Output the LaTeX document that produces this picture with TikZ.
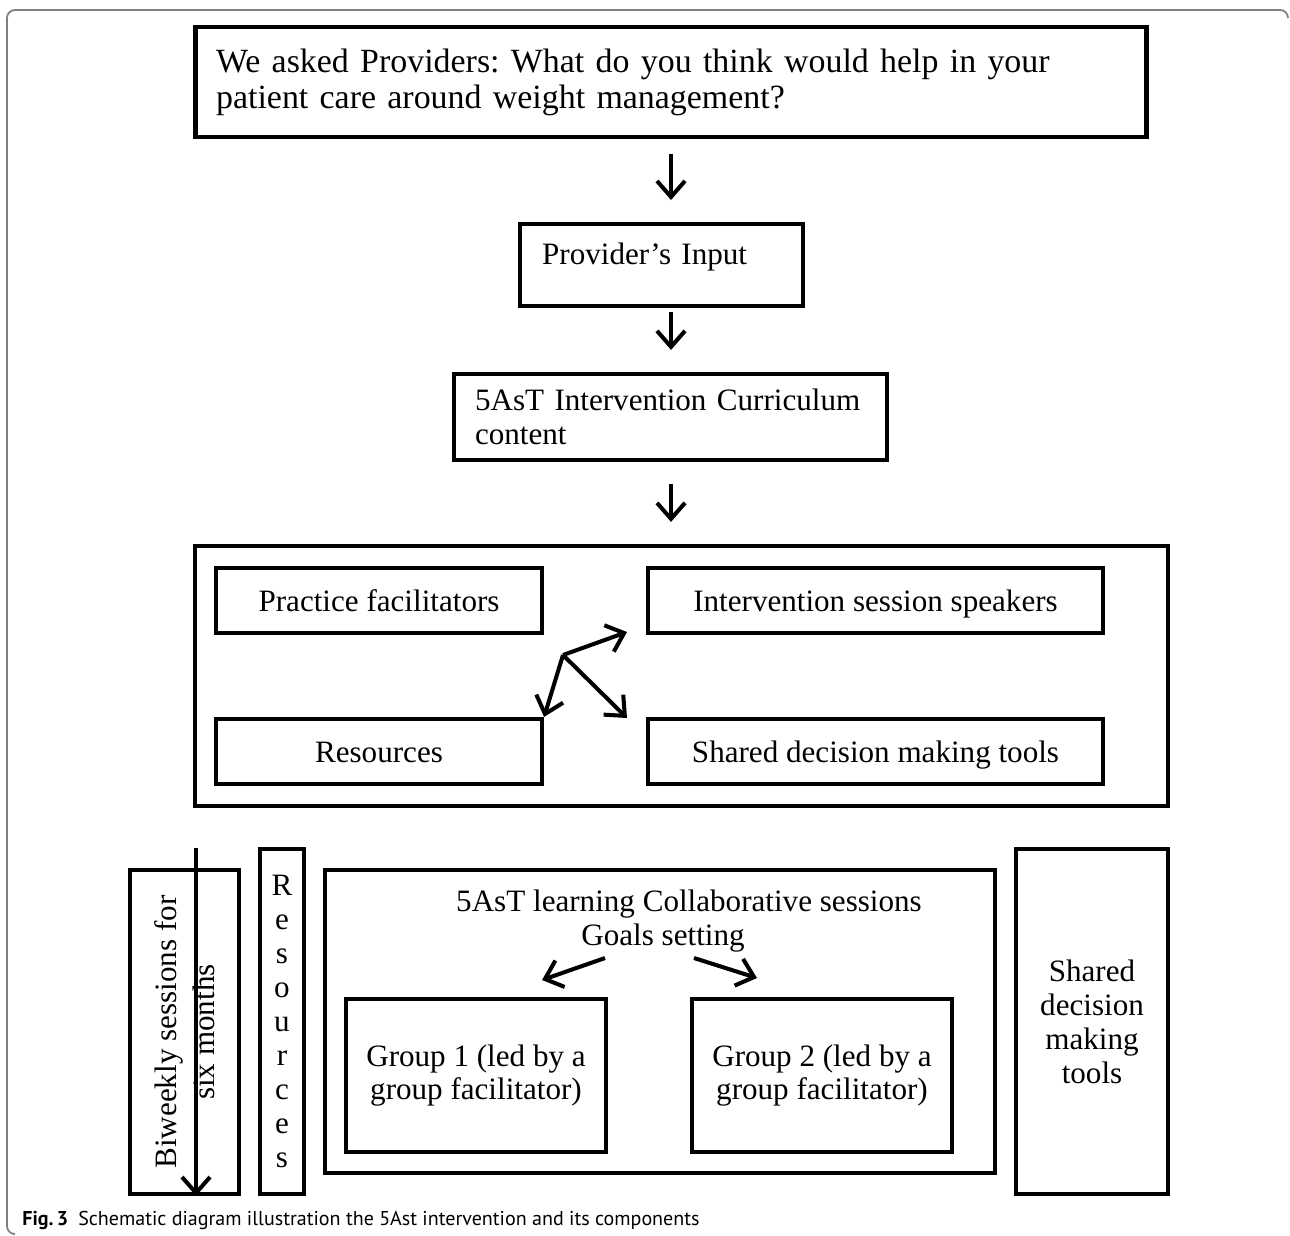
\documentclass[tikz,border=0pt]{standalone}
\usepackage{fontspec}
\setmainfont{Liberation Serif}
\newfontfamily\capfont{PT Sans}
\usetikzlibrary{arrows.meta,calc,positioning}
\definecolor{FrameGray}{HTML}{7F7F7F}
\frenchspacing
\tikzset{
  box/.style={
    draw=black,
    line width=2.4pt,
    inner sep=0pt,
    align=center,
    font=\fontsize{17.7}{19.3}\selectfont
  },
  oneline/.style={text height=15pt,text depth=3pt},
  askbox/.style={box,line width=2.8pt,align=left,font=\fontsize{19.3}{20.4}\selectfont},
  plain/.style={inner sep=0pt,font=\fontsize{17.7}{19.3}\selectfont},
  arrow/.style={-{Straight Barb[length=3.2mm,width=5.6mm]},draw=black,line width=2.3pt},
  frame/.style={draw=FrameGray,line width=1pt,rounded corners=4.5pt}
}

\begin{document}
\begin{tikzpicture}[x=.02cm,y=-.02cm]
  \useasboundingbox (0,0) rectangle (1290,1235);
  % Figure frame, open at the right and the bottom.
  \draw[frame] (13,1234) -- (7,1234) -- (7,10) -- (1288,10) -- (1288,17);

  % Question, input and curriculum chain.
  \node[askbox,minimum width=19.04cm,minimum height=2.2cm,text width=18.2cm] (ask) at (671,82)
    {We asked Providers: What do you think would help in your\\patient care around weight management?};
  \node[box,anchor=north west,minimum width=5.66cm,text width=4.78cm,align=left,
    text height=.8cm,text depth=.84cm] (input) at (518,222) {Provider’s Input};
  \node[box,minimum width=8.66cm,minimum height=1.72cm,text width=7.82cm,align=left] (curric) at (670.5,417)
    {5AsT Intervention Curriculum\\content};

  % Curriculum content block.
  \node[box,minimum width=19.46cm,minimum height=5.2cm] (content) at (681.5,676) {};
  \node[box,oneline,minimum width=6.52cm,minimum height=1.3cm] (facil) at (379,600.5) {Practice facilitators};
  \node[box,oneline,minimum width=9.1cm,minimum height=1.3cm] (speakers) at (875.5,600.5) {Intervention session speakers};
  \node[box,oneline,minimum width=6.52cm,minimum height=1.3cm] (resources) at (379,751.5) {Resources};
  \node[box,oneline,minimum width=9.1cm,minimum height=1.3cm] (sdmtools) at (875.5,751.5) {Shared decision making tools};

  \draw[arrow,shorten <=3mm,shorten >=4.4mm] (ask.south) -- (ask.south |- input.north);
  \draw[arrow,shorten <=.8mm,shorten >=4.4mm] (input.south -| ask.south) -- (ask.south |- curric.north);
  \draw[arrow,shorten <=4.4mm,shorten >=4.4mm] (curric.south -| ask.south) -- (ask.south |- content.north);

  \coordinate (hub) at (563,655);
  \coordinate (tospeakers) at (627,632);
  \coordinate (tosdm) at (627,718);
  \draw[arrow] (hub) -- (tospeakers);
  \draw[arrow] (hub) -- (resources.north east);
  \draw[arrow] (hub) -- (tosdm);

  % Learning collaborative row.
  \node[box,rotate=90,minimum width=6.48cm,minimum height=2.18cm,font=\fontsize{17.7}{21.5}\selectfont] (biweekly) at (184.5,1032)
    {Biweekly sessions for\\six months};
  \coordinate (bwtop) at (196,848);
  \draw[arrow] (bwtop) -- (bwtop |- biweekly.west);

  \node[box,minimum width=.88cm,minimum height=6.9cm] (resvert) at (282,1021.5) {R\\e\\s\\o\\u\\r\\c\\e\\s};

  \node[box,minimum width=13.4cm,minimum height=6.06cm] (collab) at (660,1021.5) {};
  \node[plain,anchor=base] (colltitle) at (689,911) {5AsT learning Collaborative sessions};
  \node[plain,anchor=base] (goals) at (663,945) {Goals setting};
  \node[box,minimum width=5.2cm,minimum height=3.06cm,font=\fontsize{17.7}{18.7}\selectfont] (group1) at (476,1075.5)
    {Group 1 (led by a\\group facilitator)};
  \node[box,minimum width=5.2cm,minimum height=3.06cm,font=\fontsize{17.7}{18.7}\selectfont] (group2) at (822,1075.5)
    {Group 2 (led by a\\group facilitator)};
  \coordinate (g1from) at (605,958);
  \coordinate (g1to) at (542,980);
  \coordinate (g2from) at (694,958);
  \coordinate (g2to) at (757,978);
  \draw[arrow] (g1from) -- (g1to);
  \draw[arrow] (g2from) -- (g2to);

  \node[box,minimum width=3.04cm,minimum height=6.9cm] (sdmvert) at (1092,1021.5) {Shared\\decision\\making\\tools};

  \node[anchor=base west,inner sep=0pt,font=\capfont\fontsize{11.4}{13}\selectfont] (caption) at (22,1225)
    {\textbf{Fig.\,3}\hspace{.5em}Schematic diagram illustration the 5Ast intervention and its components};
\end{tikzpicture}
\end{document}
